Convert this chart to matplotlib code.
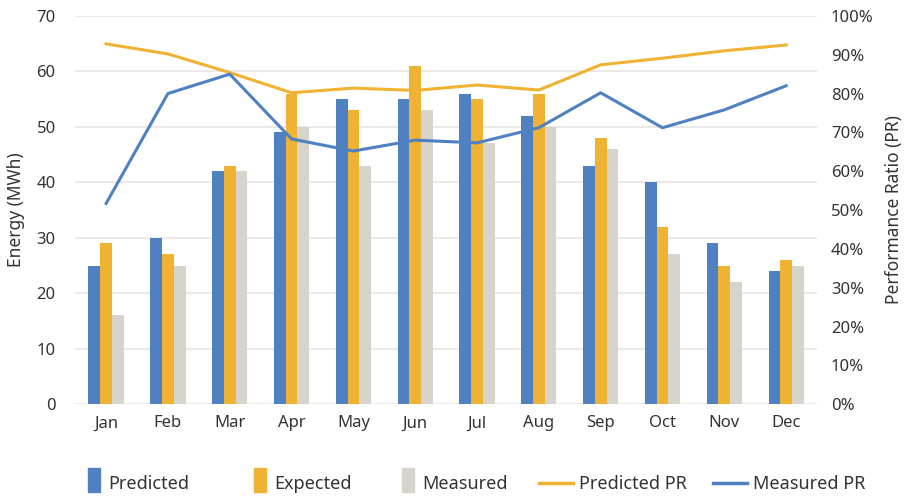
import numpy as np
import matplotlib
matplotlib.use("Agg")
import matplotlib.pyplot as plt
from matplotlib.patches import Rectangle
from matplotlib.lines import Line2D
from matplotlib.legend_handler import HandlerPatch
from matplotlib.ticker import PercentFormatter

plt.rcParams['font.family'] = ['Noto Sans', 'DejaVu Sans']

months = ['Jan', 'Feb', 'Mar', 'Apr', 'May', 'Jun', 'Jul', 'Aug', 'Sep', 'Oct', 'Nov', 'Dec']
predicted = [25, 30, 42, 49, 55, 55, 56, 52, 43, 40, 29, 24]
expected = [29, 27, 43, 56, 53, 61, 55, 56, 48, 32, 25, 26]
measured = [16, 25, 42, 50, 43, 53, 47, 50, 46, 27, 22, 25]
predicted_pr = [92.8, 90.2, 85.4, 80.2, 81.4, 80.8, 82.2, 80.9, 87.4, 89.1, 91.0, 92.5]
measured_pr = [51.7, 80.0, 85.0, 68.3, 65.2, 68.0, 67.3, 71.2, 80.2, 71.2, 75.8, 82.0]

BLUE = '#4F81C2'
GOLD = '#F0B232'
GREY = '#D7D5CB'
TEXT = '#333333'

fig = plt.figure(figsize=(9.17, 4.96), dpi=100)
ax = fig.add_axes([0.082, 0.185, 0.809, 0.783])
ax2 = ax.twinx()

x = np.arange(len(months))
w = 0.19
ax.bar(x - w, predicted, w, color=BLUE, zorder=2)
ax.bar(x, expected, w, color=GOLD, zorder=2)
ax.bar(x + w, measured, w, color=GREY, zorder=2)

ax2.plot(x, predicted_pr, color=GOLD, lw=2.2)
ax2.plot(x, measured_pr, color=BLUE, lw=2.2)

ax.set_xlim(-0.5, 11.5)
ax.set_ylim(0, 70)
ax.set_yticks(range(0, 71, 10))
ax2.set_ylim(0, 100)
ax2.set_yticks(range(0, 101, 10))
ax2.yaxis.set_major_formatter(PercentFormatter(decimals=0))
ax.set_xticks(x)
ax.set_xticklabels(months)

ax.grid(axis='y', color='#E6E5E0', lw=1.2, zorder=0)
ax.set_axisbelow(True)
for a in (ax, ax2):
    for s in a.spines.values():
        s.set_visible(False)
    a.tick_params(length=0, labelsize=12, colors=TEXT)
ax.tick_params(axis='y', pad=14)
ax.tick_params(axis='x', pad=8)
ax2.tick_params(axis='y', pad=10)

ax.set_ylabel('Energy (MWh)', fontsize=12.5, color=TEXT, labelpad=8)
ax2.set_ylabel('Performance Ratio (PR)', fontsize=12.5, color=TEXT, labelpad=8)


def tall_rect(xdescent, ydescent, width, height, **kwargs):
    # narrow, tall swatch like the original legend (sizes in points)
    return Rectangle((-xdescent, -ydescent + 0.5 * height - 6.5), width, 17.3)


# one legend per entry so each sits where it does in the original
entries = [
    (Rectangle((0, 0), 1, 1, color=BLUE), 'Predicted', 88),
    (Rectangle((0, 0), 1, 1, color=GOLD), 'Expected', 254),
    (Rectangle((0, 0), 1, 1, color=GREY), 'Measured', 402),
    (Line2D([], [], color=GOLD, lw=2.5), 'Predicted PR', 539),
    (Line2D([], [], color=BLUE, lw=2.5), 'Measured PR', 713),
]
for handle, label, px in entries:
    is_patch = isinstance(handle, Rectangle)
    fig.legend([handle], [label], loc='center left',
               bbox_to_anchor=(px / 917, 1 - 484 / 496),
               frameon=False, borderpad=0, borderaxespad=0,
               handlelength=0.66 if is_patch else 1.88,
               handletextpad=0.44 if is_patch else 0.33,
               fontsize=13, labelcolor=TEXT,
               handler_map={Rectangle: HandlerPatch(patch_func=tall_rect)})

fig.savefig('out.png', dpi=100)
